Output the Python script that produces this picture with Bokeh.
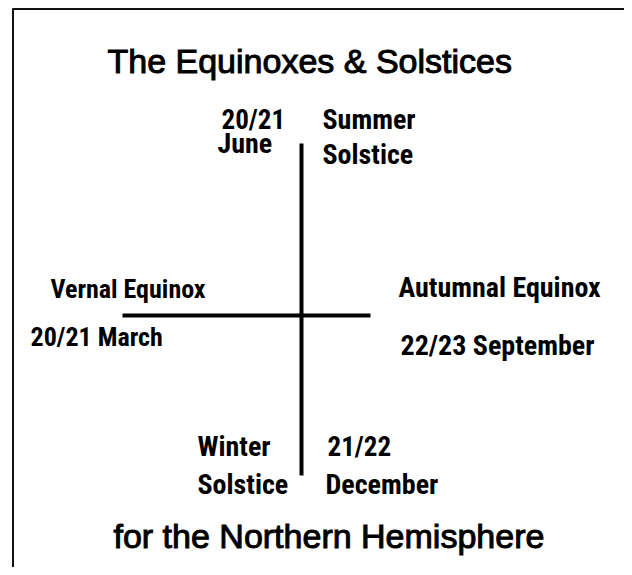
from bokeh.plotting import figure
from bokeh.models import Range1d, ColumnDataSource
from bokeh.embed import file_html
from bokeh.resources import INLINE
from bokeh.core.properties import value

# ---- content ----
title_text = "The Equinoxes & Solstices"
footer_text = "for the Northern Hemisphere"
labels = ["20/21", "June", "Summer", "Solstice",
          "Vernal  Equinox", "20/21 March",
          "Autumnal Equinox", "22/23  September",
          "Winter", "Solstice", "21/22", "December"]

# ---- layout (page pixel coordinates) ----
label_x = [221, 217, 322, 322, 50, 30, 398, 400, 197, 197, 327, 325]
label_base = [130, 154, 130, 165, 299, 347, 298, 356, 457, 495, 457, 495]
label_size = [27, 28, 28, 28, 26, 26, 28, 28, 28, 28, 27, 28]
title_x, title_base = [107, 113], [74, 549]
center = (301, 315)
arm_up, arm_down = 172, 160
arm_left, arm_right = 179, 69
TITLE_SIZE = 34
K = 0.4  # baseline correction factor for the renderer

W, H = 624, 567
p = figure(width=W, height=H, x_range=Range1d(0, W), y_range=Range1d(H, 0),
           output_backend="svg", toolbar_location=None, min_border=0,
           x_axis_type=None, y_axis_type=None)
p.grid.visible = False
p.outline_line_color = None
p.background_fill_color = "white"
p.border_fill_color = "white"

# frame border (top and left edges visible)
p.segment(x0=[12, 12.5], y0=[8.5, 8], x1=[W, 12.5], y1=[8.5, H],
          line_color="#111111", line_width=2)

# cross
cx, cy = center
p.segment(x0=[cx, cx - arm_left], y0=[cy - arm_up, cy],
          x1=[cx, cx + arm_right], y1=[cy + arm_down, cy],
          line_color="black", line_width=4)

# title & footer
p.text(x=title_x, y=[b - K * TITLE_SIZE for b in title_base],
       text=[title_text, footer_text],
       text_font=value("Liberation Sans"), text_font_size=f"{TITLE_SIZE}px",
       text_color="black", text_outline_color="black",
       text_align="left", text_baseline="alphabetic")

src = ColumnDataSource(dict(
    x=label_x,
    y=[b - K * s for b, s in zip(label_base, label_size)],
    t=labels,
    fs=[f"{s}px" for s in label_size],
))
p.text(x="x", y="y", text="t", source=src,
       text_font=value("'Roboto Condensed', 'DejaVu Sans Condensed', 'Liberation Sans'"),
       text_font_style="bold",
       text_font_size="fs", text_color="black",
       text_align="left", text_baseline="alphabetic")

open("out.html", "w").write(file_html(p, INLINE))
